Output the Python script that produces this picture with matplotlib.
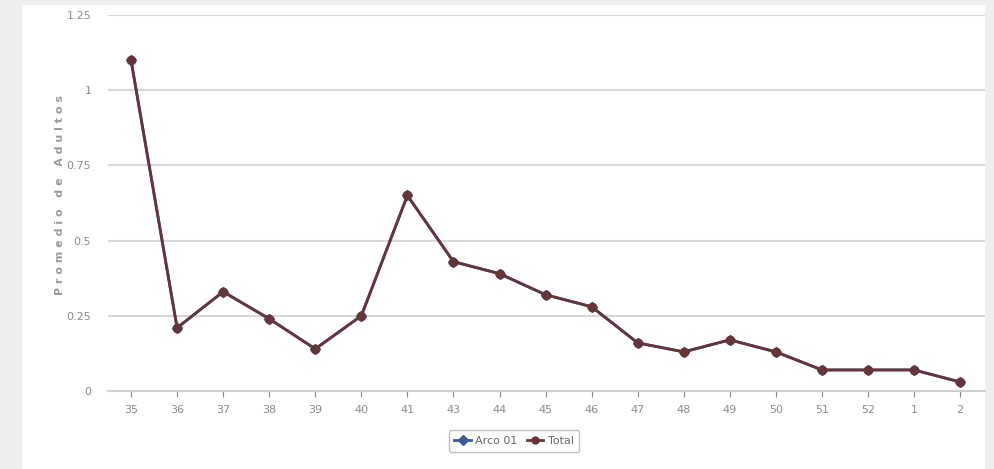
import matplotlib.pyplot as plt
from matplotlib.patches import Rectangle
from matplotlib.lines import Line2D

weeks = ['35', '36', '37', '38', '39', '40', '41', '43', '44', '45',
         '46', '47', '48', '49', '50', '51', '52', '1', '2']
total = [1.1, 0.21, 0.33, 0.24, 0.14, 0.25, 0.65, 0.43, 0.39, 0.32,
         0.28, 0.16, 0.13, 0.17, 0.13, 0.07, 0.07, 0.07, 0.03]
arco01 = list(total)
yticks = [0, 0.25, 0.5, 0.75, 1, 1.25]
ytick_labels = ['0', '0.25', '0.5', '0.75', '1', '1.25']

fig = plt.figure(figsize=(9.94, 4.69), dpi=100)
fig.patch.set_facecolor('#efefef')
# white panel behind the chart
fig.patches.append(Rectangle((22 / 994, 0.0), 963 / 994, 0.99, transform=fig.transFigure,
                             facecolor='white', edgecolor='none', zorder=-10))

ax = fig.add_axes([108 / 994, 78 / 469, 877 / 994, 376 / 469])
ax.set_facecolor('none')
x = list(range(len(weeks)))

# Arco 01 sits under Total (same values)
ax.plot(x, arco01, color='#3c5a9a', marker='D', markersize=5, linewidth=2, zorder=2)
ax.plot(x, total, color='#653539', marker='o', markersize=6, linewidth=2, zorder=3)

ax.set_xlim(-0.5, 18.54)
ax.set_ylim(0, 1.25)
ax.set_yticks(yticks)
ax.set_yticklabels(ytick_labels)
ax.set_xticks(x)
ax.set_xticklabels(weeks)
ax.tick_params(axis='y', length=0, labelsize=8, colors='#8a8a8a', pad=12)
ax.tick_params(axis='x', length=4, labelsize=8, colors='#8a8a8a', pad=6)
for lab in ax.get_xticklabels() + ax.get_yticklabels():
    lab.set_color('#8a8a8a')
ax.grid(axis='y', color='#d8d8d8', linewidth=1.5)
ax.set_axisbelow(True)
for s in ['top', 'right', 'left']:
    ax.spines[s].set_visible(False)
ax.spines['bottom'].set_color('#d0d0d0')
ax.spines['bottom'].set_linewidth(1.5)

fig.text(60 / 994, 1 - 195 / 469, 'P r o m e d i o   d e   A d u l t o s', rotation=90,
         ha='center', va='center', fontsize=8, fontweight='bold', color='#9a9a9a')

handles = [Line2D([0], [0], color='#3c5a9a', marker='D', markersize=5, linewidth=2),
           Line2D([0], [0], color='#653539', marker='o', markersize=5, linewidth=2)]
leg = fig.legend(handles, ['Arco 01', 'Total'], loc='center', bbox_to_anchor=(514 / 994, 1 - 441 / 469),
                 ncol=2, fontsize=8, frameon=True, handlelength=1.5, handletextpad=0.4,
                 columnspacing=0.8, fancybox=True, borderpad=0.5)
leg.get_frame().set_edgecolor('#b0b0b0')
for t in leg.get_texts():
    t.set_color('#666666')

fig.savefig('out.png', dpi=100, facecolor=fig.get_facecolor())
